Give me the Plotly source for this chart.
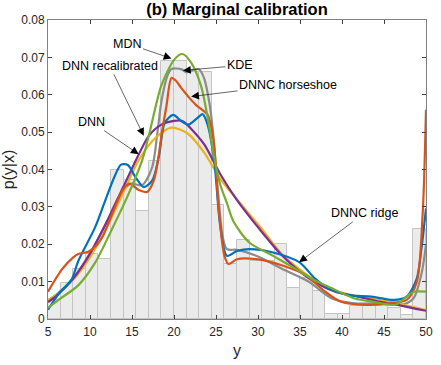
import plotly.graph_objects as go

# histogram (bin width 1.5 from 5 to 50)
hist_x = [5.75, 7.25, 8.75, 10.25, 11.75, 13.25, 14.75, 16.25, 17.75, 19.25,
          20.75, 22.25, 23.75, 25.25, 26.75, 28.25, 29.75, 31.25, 32.75, 34.25,
          35.75, 37.25, 38.75, 40.25, 41.75, 43.25, 44.75, 46.25, 47.75, 49.25]
hist_y = [0.005, 0.0095, 0.0134, 0.0175, 0.016, 0.040, 0.0373, 0.029, 0.0424, 0.069,
          0.069, 0.066, 0.066, 0.0305, 0.0147, 0.0212, 0.0156, 0.0156, 0.020, 0.0082,
          0.011, 0.0075, 0.0013, 0.0013, 0.0035, 0.0035, 0.0035, 0.003, 0.0012, 0.024]

kde_x = [5, 6, 8, 10, 12, 13.5, 14.85, 16.2, 17.4, 18, 18.5, 19.2, 19.7, 20.9, 21.5,
         22.4, 23, 23.6, 24.2, 24.6, 25.2, 25.8, 26.3, 27.5, 29.8, 32.9, 36.1, 38.8,
         41.5, 44.6, 47, 48.5, 49.5, 50]
kde_y = [0.005, 0.0065, 0.011, 0.0175, 0.026, 0.033, 0.0362, 0.0358, 0.0406, 0.0494,
         0.0582, 0.065, 0.0669, 0.0668, 0.066, 0.0668, 0.0668, 0.0643, 0.058, 0.051,
         0.035, 0.022, 0.0187, 0.0185, 0.0169, 0.0134, 0.0099, 0.0055, 0.0042, 0.0042,
         0.0038, 0.0055, 0.0125, 0.02]

dnn_x = [5, 6, 8, 10, 12, 14, 15.8, 17.8, 19.7, 21.7, 23.6, 25.5, 27.5, 30.2, 32.9,
         35.3, 38, 41.5, 45.4, 50]
dnn_y = [0.005, 0.0065, 0.0105, 0.0165, 0.0245, 0.034, 0.0425, 0.0485, 0.0512, 0.0495,
         0.0445, 0.0375, 0.032, 0.0248, 0.0172, 0.0127, 0.0085, 0.0062, 0.0047, 0.0024]

recal_x = [5, 6, 8, 10, 12, 14, 15.8, 17, 18.5, 20, 21, 22, 23.6, 25.5, 27.5, 30.2,
           32.9, 36.1, 39.2, 41.9, 44.6, 47, 50]
recal_y = [0.0045, 0.0062, 0.0108, 0.0175, 0.026, 0.0355, 0.044, 0.049, 0.052, 0.053,
           0.053, 0.051, 0.0467, 0.0388, 0.0318, 0.024, 0.0169, 0.0108, 0.0073, 0.006,
           0.0046, 0.0036, 0.0022]

mdn_x = [5, 6.5, 8.6, 10.6, 12.5, 14.5, 16.2, 17, 18.5, 20.1, 21, 22, 23.2, 24,
         24.8, 25.5, 26.3, 27.1, 29, 31.8, 34.5, 36.8, 38.8, 41.5, 43.8, 46.4, 47.9,
         48.6, 50]
mdn_y = [0.003, 0.0055, 0.009, 0.015, 0.0235, 0.033, 0.0424, 0.049, 0.0625, 0.0696,
         0.0709, 0.0687, 0.0625, 0.054, 0.043, 0.036, 0.031, 0.026, 0.0204, 0.0169,
         0.0134, 0.0103, 0.0082, 0.0055, 0.0046, 0.0038, 0.0064, 0.0073, 0.0073]

ridge_x = [5, 6.3, 7.8, 8.6, 10.6, 11.7, 12.9, 13.7, 14.5, 15.4, 16.4, 17.4, 18.2,
           18.9, 19.9, 20.9, 21.7, 22.8, 23.4, 24, 24.8, 25.5, 26.3, 27.5, 29, 31.8,
           34.9, 36.8, 38.4, 40.7, 43.5, 46.2, 47.7, 48.9, 49.5, 50]
ridge_y = [0.0025, 0.0068, 0.0105, 0.0155, 0.0245, 0.031, 0.038, 0.0413, 0.0412, 0.038,
           0.0353, 0.037, 0.0435, 0.0525, 0.0546, 0.0529, 0.052, 0.0538, 0.0548, 0.052,
           0.042, 0.025, 0.0169, 0.0182, 0.0187, 0.0178, 0.0152, 0.0108, 0.0082, 0.0064,
           0.006, 0.0051, 0.006, 0.0108, 0.0196, 0.0296]

horse_x = [5, 6.7, 8, 8.6, 9.8, 10.8, 11.5, 13.9, 14.7, 15.8, 16.8, 17.6, 18.2, 18.5,
           19.1, 19.7, 20.2, 20.9, 21.7, 22.6, 24, 24.7, 25.3, 26, 26.5, 27.5, 29.8,
           32.9, 35.7, 38, 39.9, 42.7, 45.4, 47.7, 48.9, 49.6, 50]
horse_y = [0.0073, 0.0134, 0.0165, 0.0174, 0.018, 0.0198, 0.022, 0.0345, 0.0362, 0.0345,
           0.034, 0.0371, 0.0441, 0.049, 0.057, 0.0645, 0.0638, 0.0617, 0.0595, 0.0573,
           0.0546, 0.048, 0.03, 0.0169, 0.0147, 0.016, 0.016, 0.0143, 0.0117, 0.0073,
           0.0046, 0.0038, 0.0042, 0.0051, 0.0099, 0.028, 0.056]

x_ticks = [5, 10, 15, 20, 25, 30, 35, 40, 45, 50]
y_ticks = [0, 0.01, 0.02, 0.03, 0.04, 0.05, 0.06, 0.07, 0.08]
y_ticktext = ["0", "0.01", "0.02", "0.03", "0.04", "0.05", "0.06", "0.07", "0.08"]

FONT = "Liberation Sans, Arial, sans-serif"

fig = go.Figure()
fig.add_trace(go.Bar(x=hist_x, y=hist_y, width=1.5,
                     marker=dict(color="#ebebeb", line=dict(color="#c4c4c4", width=1))))

curves = [
    (kde_x, kde_y, "#8c8c8c"),
    (dnn_x, dnn_y, "#EDB120"),
    (recal_x, recal_y, "#7E2F8E"),
    (ridge_x, ridge_y, "#0072BD"),
    (horse_x, horse_y, "#D95319"),
    (mdn_x, mdn_y, "#77AC30"),
]
for cx, cy, col in curves:
    fig.add_trace(go.Scatter(x=cx, y=cy, mode="lines",
                             line=dict(color=col, width=2.2, shape="spline", smoothing=0.8)))

notes = [
    ("MDN", 19.7, 0.0697, -44, -15),
    ("KDE", 21.07, 0.0665, 57, -5),
    ("DNNC horseshoe", 22.04, 0.0595, 97, -12),
    ("DNN recalibrated", 16.4, 0.049, -34, -70),
    ("DNN", 15.8, 0.0441, -47, -32),
    ("DNNC ridge", 34.9, 0.0152, 65, -49),
]
for txt, x, y, ax, ay in notes:
    fig.add_annotation(x=x, y=y, ax=ax, ay=ay, text=txt, showarrow=True,
                       arrowhead=2, arrowsize=2.6, arrowwidth=0.6, arrowcolor="black",
                       font=dict(family=FONT, size=12.5, color="black"))

axis_common = dict(showline=True, linecolor="#808080", linewidth=1, mirror="ticks",
                   ticks="inside", ticklen=4, tickcolor="#404040", showgrid=False,
                   zeroline=False, tickfont=dict(family=FONT, size=12, color="#262626"))
fig.update_xaxes(range=[5, 50], tickvals=x_ticks, ticklabelstandoff=2,
                 title=dict(text="y", standoff=6,
                            font=dict(family=FONT, size=16, color="#262626")),
                 **axis_common)
fig.update_yaxes(range=[0, 0.08], tickvals=y_ticks, ticktext=y_ticktext,
                 title=dict(text="p(y|x)", standoff=2,
                            font=dict(family=FONT, size=16, color="#262626")),
                 **axis_common)
fig.update_layout(
    width=441, height=365,
    margin=dict(l=47, r=8, t=20, b=41),
    plot_bgcolor="white", paper_bgcolor="white",
    showlegend=False, bargap=0,
    title=dict(text="<b>(b) Marginal calibration</b>", x=0.5, xanchor="center",
               xref="paper", y=1, yanchor="top", yref="container",
               pad=dict(t=3), font=dict(family=FONT, size=16.5, color="black")),
)
# drop the browser's default page margin so the figure sits at the window origin
fig.write_html("out.html", config={"displayModeBar": False},
               post_script="document.body.style.margin='0px';")
